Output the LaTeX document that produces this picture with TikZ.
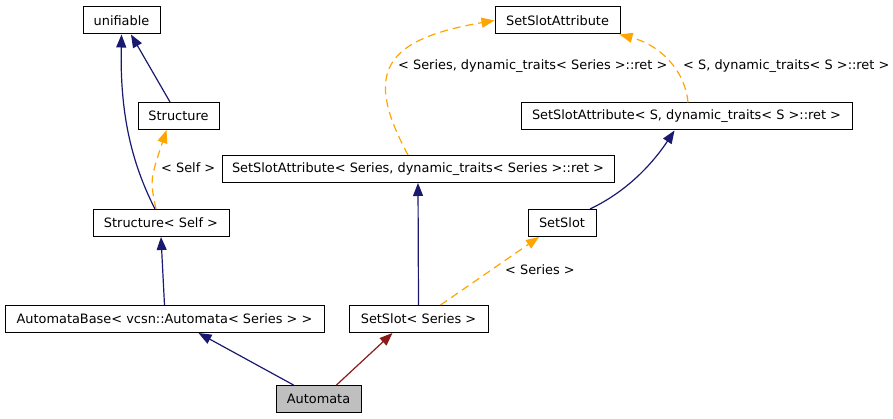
\documentclass[tikz,border=0pt]{standalone}
\usepackage{fontspec}
\setmainfont{DejaVu Sans}
\usetikzlibrary{arrows.meta}
\usepackage{xcolor}
\definecolor{DoxNavy}{HTML}{191970}
\definecolor{DoxOrange}{HTML}{FFA500}
\definecolor{DoxRed}{HTML}{8B1A1A}
\definecolor{DoxGray}{HTML}{BFBFBF}
\tikzset{
  cls/.style={draw=black, line width=1pt, fill=white, inner sep=0pt,
    minimum height=27pt, font=\fontsize{12.9}{15}\selectfont},
  inh/.style={DoxNavy, line width=1.2pt, -{Triangle[length=13pt,width=10pt]}},
  priv/.style={DoxRed, line width=1.2pt, -{Triangle[length=13pt,width=10pt]}},
  templ/.style={DoxOrange, line width=1.2pt, dash pattern=on 8pt off 5pt,
    -{Triangle[length=13pt,width=10pt]}},
  lbl/.style={anchor=west, inner sep=0pt, font=\fontsize{12.9}{15}\selectfont}
}

\begin{document}
\begin{tikzpicture}[x=1pt, y=-1pt]
  \useasboundingbox (0,0) rectangle (893,419);
  % classes
  \node[cls, minimum width=77] (unifiable) at (121.5,20.5) {unifiable};
  \node[cls, minimum width=81] (structure) at (178.5,116) {Structure};
  \node[cls, minimum width=136] (sself) at (161,223) {Structure< Self >};
  \node[cls, minimum width=319] (abase) at (164.5,319) {AutomataBase< vcsn::Automata< Series > >};
  \node[cls, minimum width=85, fill=DoxGray] (automata) at (318.5,399) {Automata};
  \node[cls, minimum width=139] (ssser) at (418.5,319) {SetSlot< Series >};
  \node[cls, minimum width=68] (setslot) at (562,223) {SetSlot};
  \node[cls, minimum width=392] (ssaser) at (418,169) {SetSlotAttribute< Series, dynamic\_traits< Series >::ret >};
  \node[cls, minimum width=331] (ssas) at (686.5,116.5) {SetSlotAttribute< S, dynamic\_traits< S >::ret >};
  \node[cls, minimum width=125] (ssa) at (557.5,20.5) {SetSlotAttribute};

  % inheritance
  \draw[inh] ([xshift=-6pt]sself.north) .. controls (130,160) and (120,110) .. (unifiable.south);
  \draw[inh] ([xshift=-8.5pt]structure.north) -- ([xshift=9.5pt]unifiable.south);
  \draw[inh] (abase.north) -- (sself.south);
  \draw[inh] ([xshift=-25pt]automata.north) -- ([xshift=34pt]abase.south);
  \draw[priv] ([xshift=18pt]automata.north) -- ([xshift=-26pt]ssser.south);
  \draw[inh] (ssser.north) -- (ssaser.south);
  \draw[inh] ([xshift=28pt]setslot.north) .. controls (630,190) and (655,160) .. ([xshift=-12pt]ssas.south);

  % template instances
  \draw[templ] ([xshift=-5pt]sself.north) .. controls (150,180) .. ([xshift=-12pt]structure.south);
  \node[lbl] (lself) at (161,168) {< Self >};
  \draw[templ] ([xshift=22pt]ssser.north) -- ([xshift=-23pt]setslot.south);
  \node[lbl] (lseries) at (505,270) {< Series >};
  \draw[templ] ([xshift=-10pt]ssaser.north) .. controls (365,75) and (380,40) .. (ssa.west);
  \node[lbl] (lssaser) at (398,66) {< Series, dynamic\_traits< Series >::ret >};
  \draw[templ] ([xshift=1.5pt]ssas.north) .. controls (685,70) and (660,45) .. ([xshift=-1pt]ssa.south east);
  \node[lbl] (lssas) at (683,66) {< S, dynamic\_traits< S >::ret >};
\end{tikzpicture}
\end{document}
